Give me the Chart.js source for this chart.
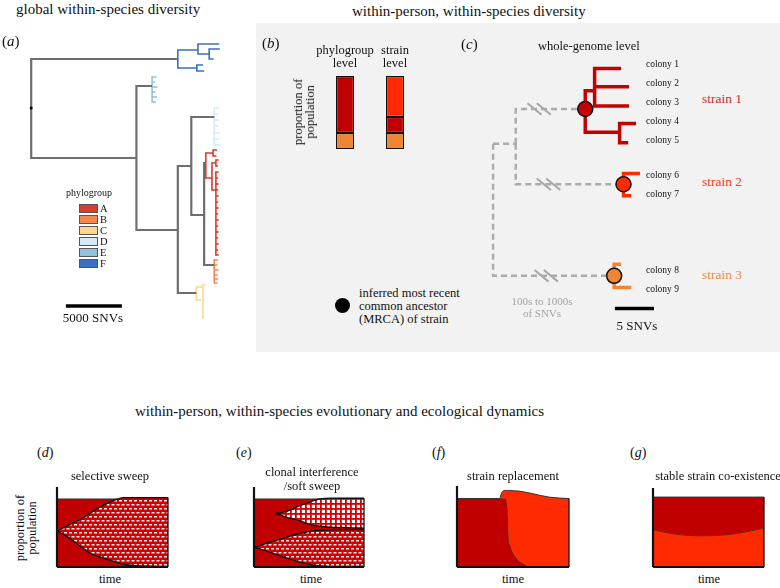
<!DOCTYPE html>
<html>
<head>
<meta charset="utf-8">
<script src="https://cdn.jsdelivr.net/npm/chart.js@4.4.0/dist/chart.umd.min.js"></script>
<style>
  html, body { margin: 0; padding: 0; background: #fff; }
  #fig { position: relative; width: 780px; height: 588px; overflow: hidden;
         font-family: "Liberation Serif", "Times New Roman", serif; color: #111; }
  #fig canvas { position: absolute; }
  .t { position: absolute; white-space: nowrap; }
  .blk { position: absolute; }
</style>
</head>
<body>
<div id="fig">
  <div class="blk" style="left:256px;top:23px;width:524px;height:329px;background:#f2f2f2"></div>
</div>
<script>
// ---------- data ----------

// (a) global tree: [node, parent, distance from root (SNVs), tip position, phylogroup]
const globalTree = [
  ['r', null, 0, 108, 'g'],
  ['n1', 'r', 13100, 59, 'g'],
  ['n2', 'r', 9400, 158, 'g'],
  ['n3', 'n2', 10800, 86, 'g'],
  ['n4', 'n2', 13100, 230, 'g'],
  ['n5', 'n4', 14300, 166, 'g'],
  ['n6', 'n4', 14750, 293, 'g'],
  ['n7', 'n5', 16350, 117, 'g'],
  ['n8', 'n5', 15450, 215, 'g'],
  ['n9', 'n8', 15600, 163, 'g'],
  ['n10', 'n8', 16350, 265, 'g'],
  ['f1', 'n1', 14900, 50, 'F'], ['f2', 'n1', 14800, 68, 'F'],
  ['f3', 'f1', 16800, 44, 'F'], ['f4', 'f1', 15900, 54, 'F'],
  ['f5', 'f4', 16850, 49, 'F'], ['f6', 'f4', 16300, 59, 'F'],
  ['f7', 'f2', 15350, 65, 'F'], ['f8', 'f2', 15450, 71, 'F'],
  ['e1', 'n3', 11200, 77, 'E'], ['e2', 'n3', 11050, 82, 'E'], ['e3', 'n3', 11300, 87, 'E'],
  ['e4', 'n3', 11100, 92, 'E'], ['e5', 'n3', 11250, 97, 'E'], ['e6', 'n3', 11150, 102, 'E'],
  ['d1', 'n7', 16800, 108, 'D'], ['d2', 'n7', 16700, 114, 'D'], ['d3', 'n7', 16850, 120, 'D'],
  ['d4', 'n7', 16750, 126, 'D'], ['d5', 'n7', 16900, 133, 'D'], ['d6', 'n7', 16800, 139, 'D'],
  ['d7', 'n7', 16900, 145, 'D'],
  ['a1', 'n9', 16250, 153, 'A'], ['a1a', 'a1', 16600, 150, 'A'], ['a1b', 'a1', 16550, 156, 'A'],
  ['a2', 'n9', 16150, 178, 'A'], ['a3', 'a2', 16500, 163, 'A'],
  ['a3a', 'a3', 16750, 160, 'A'], ['a3b', 'a3', 16700, 166, 'A'],
  ['a4', 'a2', 16500, 190, 'A'],
  ['a5', 'a4', 16750, 172, 'A'], ['a6', 'a4', 16700, 178, 'A'], ['a7', 'a4', 16750, 184, 'A'],
  ['a8', 'a4', 16700, 190, 'A'], ['a9', 'a4', 16750, 196, 'A'], ['a10', 'a4', 16700, 202, 'A'],
  ['a11', 'a4', 16750, 208, 'A'], ['a12', 'a4', 16700, 214, 'A'], ['a13', 'a4', 16750, 220, 'A'],
  ['a14', 'a4', 16700, 226, 'A'], ['a15', 'a4', 16750, 232, 'A'], ['a16', 'a4', 16700, 238, 'A'],
  ['a17', 'a4', 16750, 244, 'A'], ['a18', 'a4', 16700, 250, 'A'], ['a19', 'a4', 16750, 255, 'A'],
  ['b1', 'n10', 16700, 260, 'B'], ['b2', 'n10', 16650, 265, 'B'], ['b3', 'n10', 16750, 270, 'B'],
  ['b4', 'n10', 16650, 275, 'B'], ['b5', 'n10', 16700, 279, 'B'], ['b6', 'n10', 16650, 283, 'B'],
  ['c1', 'n6', 15350, 287, 'C'], ['c2', 'n6', 15200, 300, 'C'],
  ['c1a', 'c1', 15550, 285, 'C'], ['c1b', 'c1', 15450, 300, 'C'], ['c1c', 'c1', 15450, 318, 'C']
];
const phylogroups = ['A', 'B', 'C', 'D', 'E', 'F'];
const phyloColors = { g: '#6e6e6e', A: '#dc3a2c', B: '#f4874d', C: '#fdd88a', D: '#d6ebf6', E: '#92c0df', F: '#3b6fc3' };
const scaleBarA = [3100, 8100];

// (b) proportion of population
const barLevels = ['phylogroup level', 'strain level'];
const barBottom = [0.22, 0.22];   // phylogroup B / strain 3
const barMiddle = [0.78, 0.22];   // phylogroup A / strain 1
const barTop = [null, 0.56];      // strain 2

// (c) strain tree (SNVs)
const strainTree = [
  ['r', null, 0, 142, 'dash'],
  ['p1', 'r', 2.9, 142, 'dash'],
  ['m1', 'p1', 11.8, 106, 'dash'],
  ['m2', 'p1', 16.7, 184, 'dash'],
  ['m3', 'r', 15.5, 279, 'dash'],
  ['s1a', 'm1', 13.0, 87, 's1'],
  ['colony 1', 's1a', 16.4, 64, 's1'],
  ['colony 2', 's1a', 17.4, 83, 's1'],
  ['colony 3', 's1a', 17.4, 103, 's1'],
  ['s1b', 'm1', 16.2, 130, 's1'],
  ['colony 4', 's1b', 18.3, 121, 's1'],
  ['colony 5', 's1b', 17.3, 141, 's1'],
  ['colony 6', 'm2', 18.8, 173, 's2'],
  ['colony 7', 'm2', 17.7, 196, 's2'],
  ['colony 8', 'm3', 16.4, 267, 's3'],
  ['colony 9', 'm3', 17.7, 291, 's3']
];
const strainColors = { dash: '#ababab', s1: '#c40000', s2: '#ff2a00', s3: '#ef8636' };
const mrcaNodes = ['m1', 'm2', 'm3'];
const mrcaColors = ['#c40000', '#ff2a00', '#ef8636'];
const breakMarks = [[5.9, 106], [7.1, 184], [6.8, 279]];
const colonyLabelY = [65, 84, 103, 122, 141, 176, 195, 271, 290];
const strainLabels = ['strain 1', 'strain 2', 'strain 3'];
const strainLabelY = [99, 182, 275];
const strainLabelColors = ['#d42a2a', '#ff3a1a', '#f08c3c'];
const scaleBarC = [15.6, 20.6];

// (d) selective sweep
const sweepT = [0, 10, 20, 30, 40, 50, 60, 70, 80, 90, 100];
const sweepUpper = [0.53, 0.61, 0.69, 0.79, 0.89, 0.97, 1.02, 1.02, 1.02, 1.02, 1.02];
const sweepLower = [0.53, 0.44, 0.32, 0.20, 0.14, 0.09, 0.04, 0.02, 0.01, 0.005, 0];

// (e) clonal interference
const cloneAT = [19, 25, 30, 35, 40, 45, 50, 55, 60, 70, 80, 90, 100];
const cloneAUpper = [0.785, 0.80, 0.82, 0.85, 0.89, 0.92, 0.95, 0.98, 1.0, 1.01, 1.01, 1.01, 1.01];
const cloneALower = [0.785, 0.76, 0.73, 0.71, 0.69, 0.66, 0.63, 0.61, 0.60, 0.585, 0.58, 0.575, 0.57];
const cloneBT = [0, 10, 20, 30, 40, 50, 60, 70, 80, 90, 100];
const cloneBUpper = [0.29, 0.34, 0.39, 0.44, 0.485, 0.52, 0.54, 0.545, 0.55, 0.55, 0.55];
const cloneBLower = [0.29, 0.24, 0.185, 0.13, 0.08, 0.04, 0.015, 0.002, 0, 0, 0];

// (f) strain replacement
const replT = [0, 38, 40, 43, 44.5, 45.3, 45.6, 46, 47.5, 50.3, 55, 59.2, 65, 68, 83, 100];
const replOld = [1, 1, 1, 1, 0.95, 0.80, 0.65, 0.45, 0.32, 0.20, 0.10, 0.05, 0, 0, 0, 0];
const replTop = [1, 1, 1.09, 1.12, 1.12, 1.12, 1.12, 1.12, 1.12, 1.115, 1.11, 1.10, 1.08, 1.07, 1.02, 1.0];

// (g) stable co-existence
const coexT = [0, 18, 33, 48, 63, 78, 100];
const coexLower = [0.533, 0.476, 0.451, 0.447, 0.457, 0.486, 0.557];

// ---------- helpers ----------
const fig = document.getElementById('fig');
const PAD = 4;

function canvasAt(x0, y0, x1, y1) {
  const c = document.createElement('canvas');
  const w = x1 - x0 + 2 * PAD, h = y1 - y0 + 2 * PAD;
  c.width = w; c.height = h;
  c.style.left = (x0 - PAD) + 'px';
  c.style.top = (y0 - PAD) + 'px';
  c.style.width = w + 'px';
  c.style.height = h + 'px';
  fig.appendChild(c);
  return c;
}

function baseOptions(xr, yr, rev) {
  return {
    responsive: false, animation: false, events: [],
    layout: { padding: PAD },
    plugins: { legend: { display: false }, tooltip: { enabled: false } },
    scales: {
      x: { type: 'linear', display: false, min: xr[0], max: xr[1] },
      y: { type: 'linear', display: false, min: yr[0], max: yr[1], reverse: !!rev }
    }
  };
}

function plot(area, xr, yr, rev, datasets) {
  return new Chart(canvasAt(...area), { type: 'line', data: { datasets }, options: baseOptions(xr, yr, rev) });
}

function line(data, color, width, extra = {}) {
  return Object.assign({
    data, borderColor: color, borderWidth: width, pointRadius: 0, fill: false,
    borderJoinStyle: 'miter', clip: false, spanGaps: false
  }, extra);
}

const pts = (xs, ys) => xs.map((x, i) => ({ x, y: ys[i] }));

// elbow segments for each branch, grouped by colour
function treeGroups(nodes) {
  const pos = {};
  nodes.forEach(n => { pos[n[0]] = { x: n[2], y: n[3] }; });
  const groups = {};
  nodes.forEach(([id, parent, x, y, g]) => {
    if (!parent) return;
    const p = pos[parent];
    (groups[g] = groups[g] || []).push({ x: p.x, y: p.y }, { x: p.x, y }, { x, y }, { x: null, y: null });
  });
  return { groups, pos };
}

function pattern(kind) {
  const c = document.createElement('canvas');
  const g = c.getContext('2d');
  if (kind === 'dots') {
    c.width = 5; c.height = 8;
    g.fillStyle = '#d20000'; g.fillRect(0, 0, 5, 8);
    g.fillStyle = 'rgba(255,255,255,0.92)';
    g.fillRect(1, 1, 3, 1.5);
    g.fillRect(3.5, 5, 3, 1.5);
    g.fillRect(-1.5, 5, 3, 1.5);
  } else {
    c.width = 5; c.height = 5;
    g.fillStyle = '#ffffff'; g.fillRect(0, 0, 5, 5);
    g.fillStyle = '#d20000';
    g.fillRect(0, 0, 5, 1.8);
    g.fillRect(0, 0, 1.8, 5);
  }
  return g.createPattern(c, 'repeat');
}

function txt(s, x, y, size, align, o = {}) {
  const d = document.createElement('div');
  d.className = 't';
  d.innerHTML = s;
  d.style.left = x + 'px';
  d.style.top = y + 'px';
  d.style.fontSize = size + 'px';
  d.style.lineHeight = (o.lh || size * 1.05) + 'px';
  d.style.textAlign = align === 'c' ? 'center' : 'left';
  if (o.color) d.style.color = o.color;
  d.style.transform = `translate(${align === 'c' ? '-50%' : '0'},-50%)` + (o.rot ? ` rotate(${o.rot}deg)` : '');
  fig.appendChild(d);
}

// ---------- (a) global tree ----------
const A = treeGroups(globalTree);
const aSets = [];
Object.keys(A.groups).forEach(g => {
  aSets.push(line(A.groups[g], phyloColors[g], g === 'g' ? 2.2 : 1.6));
});
aSets.unshift(line([{ x: 0, y: 108 }], '#000', 0, { pointRadius: 1.5, pointBackgroundColor: '#000', pointBorderWidth: 0 }));
aSets.push(line(pts(scaleBarA, [306, 306]), '#000', 3.5));
plot([20, 38, 245, 322], [-1000, 19100], [38, 322], true, aSets);

phylogroups.forEach((p, i) => {
  const b = document.createElement('div');
  b.className = 'blk';
  b.style.cssText += `left:79px;top:${204 + i * 11}px;width:17px;height:7px;background:${phyloColors[p]};border:1px solid #555;`;
  fig.appendChild(b);
  txt(p, 100, 208.5 + i * 11, 10.5, 'l');
});

// ---------- (b) bars ----------
const barStyle = { borderColor: '#111', borderWidth: 1.2, borderSkipped: false, categoryPercentage: 1, barPercentage: 0.36 };
new Chart(canvasAt(320, 76, 420, 149), {
  type: 'bar',
  data: {
    labels: barLevels,
    datasets: [
      Object.assign({ data: barBottom, backgroundColor: '#ee8535' }, barStyle),
      Object.assign({ data: barMiddle, backgroundColor: '#c00000' }, barStyle),
      Object.assign({ data: barTop, backgroundColor: '#ff2a00' }, barStyle)
    ]
  },
  options: {
    responsive: false, animation: false, events: [],
    layout: { padding: PAD },
    plugins: { legend: { display: false }, tooltip: { enabled: false } },
    scales: {
      x: { display: false, stacked: true },
      y: { display: false, stacked: true, min: 0, max: 1 }
    }
  }
});

// ---------- (c) strain tree ----------
const C = treeGroups(strainTree);
const cSets = [];
cSets.push(line(mrcaNodes.map(id => C.pos[id]), '#000', 0, {
  showLine: false, pointRadius: 7.5, pointBackgroundColor: mrcaColors,
  pointBorderColor: '#111', pointBorderWidth: 1.5
}));
Object.keys(C.groups).forEach(g => {
  cSets.push(line(C.groups[g], strainColors[g], g === 'dash' ? 2.4 : 3.5,
    g === 'dash' ? { borderDash: [6, 4] } : {}));
});
const breakPts = [];
breakMarks.forEach(([bx, by]) => {
  [-0.6, 0.6].forEach(dx => {
    breakPts.push({ x: bx + dx - 0.9, y: by - 6 }, { x: bx + dx + 0.9, y: by + 6 }, { x: null, y: null });
  });
});
cSets.push(line(breakPts, '#a6a6a6', 2));
cSets.push(line(pts(scaleBarC, [313, 313]), '#000', 3.5));
plot([470, 50, 680, 330], [-19 / 8.2, 191 / 8.2], [50, 330], true, cSets);

// ---------- (d)-(g) population dynamics ----------
const DARK = '#c00000', BRIGHT = '#ff2a00';
const smooth = { cubicInterpolationMode: 'monotone' };
function axesSets(ymax) {
  return [
    line(pts([0, 0], [0, ymax]), '#111', 2.2),
    line(pts([0, 100], [0, 0]), '#111', 2.2)
  ];
}

// (d)
plot([57, 487, 168, 567], [0, 100], [0, 1.176], false, [
  ...axesSets(1.176),
  line(pts([100, 100], [0, 1.02]), '#111', 1.3),
  line(pts(sweepT, sweepLower), '#111', 1.4, Object.assign({ order: 1 }, smooth)),
  line(pts(sweepT, sweepUpper), '#111', 1.4, Object.assign({ order: 1, fill: '-1', backgroundColor: pattern('dots') }, smooth)),
  line(pts([0, 100], [1, 1]), '#333', 1, { order: 5, fill: 'origin', backgroundColor: DARK })
]);

// (e)
plot([254, 487, 364, 567], [0, 100], [0, 1.176], false, [
  ...axesSets(1.176),
  line(pts([100, 100], [0, 1.01]), '#111', 1.3),
  line(pts(cloneAT, cloneALower), '#111', 1.4, Object.assign({ order: 1 }, smooth)),
  line(pts(cloneAT, cloneAUpper), '#111', 1.4, Object.assign({ order: 1, fill: '-1', backgroundColor: pattern('grid') }, smooth)),
  line(pts(cloneBT, cloneBLower), '#111', 1.4, Object.assign({ order: 1 }, smooth)),
  line(pts(cloneBT, cloneBUpper), '#111', 1.4, Object.assign({ order: 1, fill: '-1', backgroundColor: pattern('dots') }, smooth)),
  line(pts([0, 100], [1, 1]), '#333', 1, { order: 5, fill: 'origin', backgroundColor: DARK })
]);

// (f)
plot([457, 486, 569, 567], [0, 100], [0, 1.184], false, [
  ...axesSets(1.184),
  line(pts([100, 100], [0, 1.0]), '#111', 1.3),
  line(pts(replT, replOld), '#333', 1, Object.assign({ order: 2, fill: 'origin', backgroundColor: DARK }, smooth)),
  line(pts(replT, replTop), '#333', 1, Object.assign({ order: 1, fill: '-1', backgroundColor: BRIGHT }, smooth))
]);

// (g)
plot([653, 488, 764, 567], [0, 100], [0, 1.13], false, [
  ...axesSets(1.13),
  line(pts([100, 100], [0, 1.0]), '#111', 1.3),
  line(pts(coexT, coexLower), '#333', 1, Object.assign({ order: 2, fill: 'origin', backgroundColor: BRIGHT }, smooth)),
  line(pts([0, 100], [1, 1]), '#333', 1, { order: 1, fill: '-1', backgroundColor: DARK })
]);

// ---------- text ----------
txt('global within-species diversity', 16, 10, 15, 'l');
txt('within-person, within-species diversity', 352, 12, 15, 'l');
txt('(<i>a</i>)', 2, 42, 15, 'l');
txt('phylogroup', 66, 193, 10, 'l');
txt('5000 SNVs', 93, 318, 13, 'c');
txt('(<i>b</i>)', 262, 44, 15, 'l');
txt('phylogroup<br>level', 345, 56, 12.5, 'c', { lh: 12.5 });
txt('strain<br>level', 395, 56, 12.5, 'c', { lh: 12.5 });
txt('proportion of<br>population', 304, 112, 12.5, 'c', { lh: 12, rot: -90 });
txt('inferred most recent<br>common ancestor<br>(MRCA) of strain', 359, 306, 12.5, 'l', { lh: 13 });
txt('(<i>c</i>)', 461, 45, 15, 'l');
txt('whole-genome level', 538, 47, 12.5, 'l');
strainTree.filter(n => n[0].startsWith('colony')).forEach((n, i) => txt(n[0], 646, colonyLabelY[i], 9.5, 'l'));
strainLabels.forEach((s, i) => txt(s, 702, strainLabelY[i], 13.5, 'l', { color: strainLabelColors[i] }));
txt('100s to 1000s<br>of SNVs', 542, 307, 11, 'c', { lh: 12, color: '#a3a3a3' });
txt('5 SNVs', 637, 326, 13, 'c');

const legendDot = document.createElement('div');
legendDot.className = 'blk';
legendDot.style.cssText += 'left:335px;top:298px;width:15px;height:15px;border-radius:50%;background:#000;';
fig.appendChild(legendDot);

txt('within-person, within-species evolutionary and ecological dynamics', 135, 412, 15, 'l');
txt('(<i>d</i>)', 37, 453, 14, 'l');
txt('(<i>e</i>)', 236, 453, 14, 'l');
txt('(<i>f</i>)', 432, 453, 14, 'l');
txt('(<i>g</i>)', 630, 453, 14, 'l');
txt('selective sweep', 110, 477, 12.5, 'c');
txt('clonal interference<br>/soft sweep', 312, 479, 12.5, 'c', { lh: 14 });
txt('strain replacement', 513, 477, 12.5, 'c');
txt('stable strain co-existence', 718, 477, 12.5, 'c');
txt('proportion of<br>population', 26, 528, 12.5, 'c', { lh: 12, rot: -90 });
[110, 311, 513, 709].forEach(x => txt('time', x, 580, 12.5, 'c'));
</script>
</body>
</html>
